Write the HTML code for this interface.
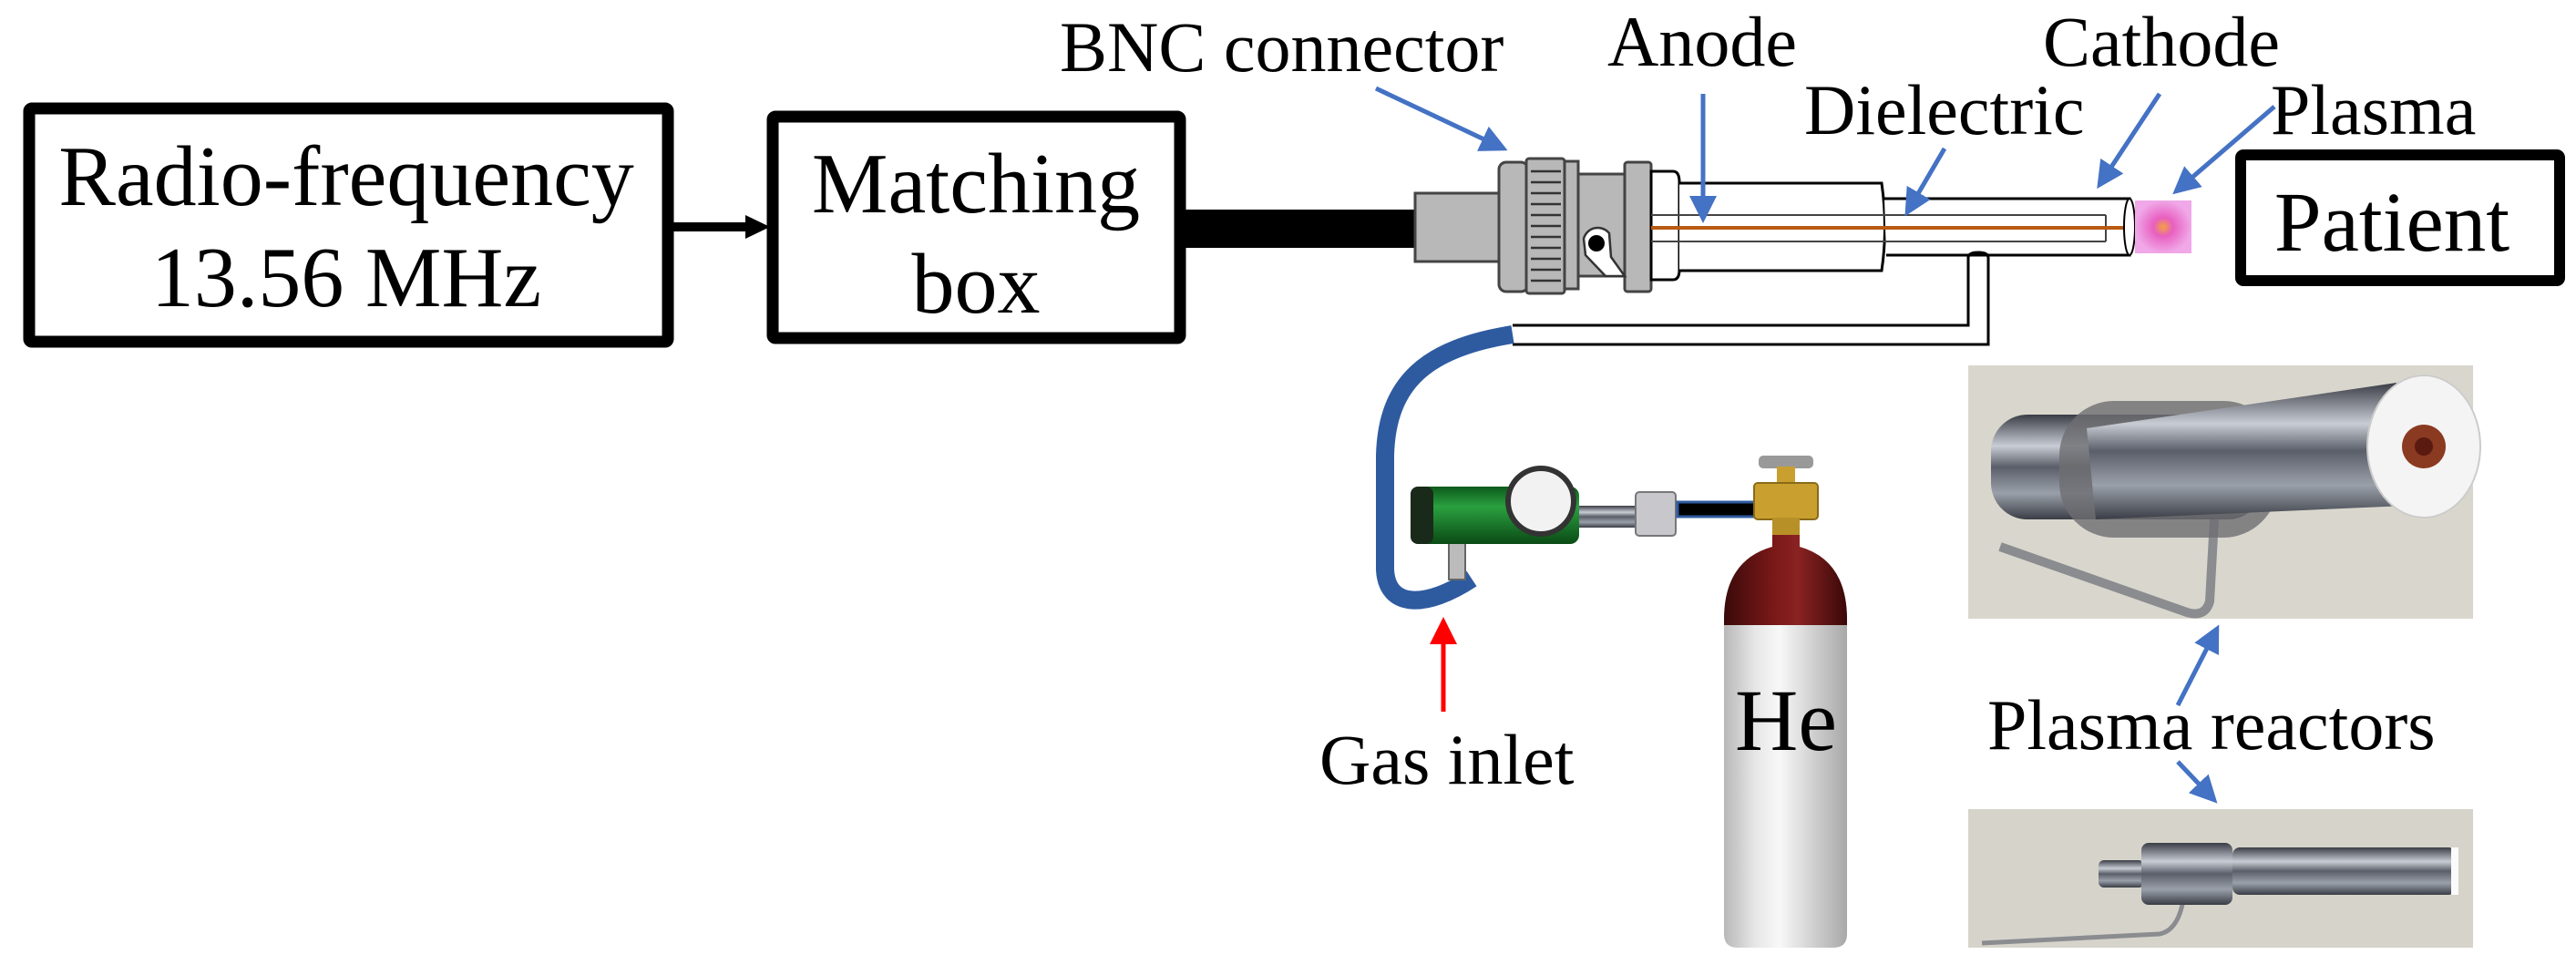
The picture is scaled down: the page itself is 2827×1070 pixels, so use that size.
<!DOCTYPE html>
<html><head><meta charset="utf-8"><style>
html,body{margin:0;padding:0;background:#fff;}
svg{display:block;}
text{font-family:"Liberation Serif",serif;fill:#000;}
</style></head><body>
<svg width="2827" height="1070" viewBox="0 0 2827 1070" xmlns="http://www.w3.org/2000/svg">
<defs>
<marker id="bh" markerWidth="6" markerHeight="6" refX="5" refY="3" orient="auto" markerUnits="strokeWidth"><path d="M0,0 L6,3 L0,6 z" fill="#4472C4"/></marker>
<marker id="rh" markerWidth="6" markerHeight="6" refX="5" refY="3" orient="auto" markerUnits="strokeWidth"><path d="M0,0 L6,3 L0,6 z" fill="#ff0000"/></marker>
<linearGradient id="silver" x1="0" x2="1" y1="0" y2="0">
<stop offset="0" stop-color="#b8b8b8"/><stop offset="0.25" stop-color="#e6e6e6"/><stop offset="0.45" stop-color="#f8f8f8"/><stop offset="0.7" stop-color="#d4d4d4"/><stop offset="1" stop-color="#a8a8a8"/></linearGradient>
<linearGradient id="red" x1="0" x2="1" y1="0" y2="0">
<stop offset="0" stop-color="#3a0a0a"/><stop offset="0.4" stop-color="#7a1818"/><stop offset="0.6" stop-color="#8a2222"/><stop offset="1" stop-color="#3a0808"/></linearGradient>
<linearGradient id="green" x1="0" x2="0" y1="0" y2="1">
<stop offset="0" stop-color="#0c5a1a"/><stop offset="0.35" stop-color="#2aa040"/><stop offset="1" stop-color="#0a4a14"/></linearGradient>
<linearGradient id="metal" x1="0" x2="0" y1="0" y2="1">
<stop offset="0" stop-color="#3a3d45"/><stop offset="0.3" stop-color="#c8ccd4"/><stop offset="0.5" stop-color="#5a5e68"/><stop offset="0.75" stop-color="#9aa0aa"/><stop offset="1" stop-color="#3a3d45"/></linearGradient>
<radialGradient id="pl" cx="0.5" cy="0.5" r="0.5"><stop offset="0" stop-color="#f4a040"/><stop offset="0.35" stop-color="#e860c0"/><stop offset="1" stop-color="#f0a8e8"/></radialGradient>
</defs>

<!-- RF box -->
<rect x="32" y="119" width="701" height="256" fill="#fff" stroke="#000" stroke-width="13" rx="3"/>
<text x="380" y="225" font-size="94" text-anchor="middle">Radio-frequency</text>
<text x="380" y="336" font-size="94" text-anchor="middle">13.56 MHz</text>
<!-- arrow -->
<line x1="739" y1="249" x2="820" y2="249" stroke="#000" stroke-width="10"/>
<path d="M818,236 L845,249 L818,262 z" fill="#000"/>
<!-- Matching box -->
<rect x="848" y="128" width="447" height="243" fill="#fff" stroke="#000" stroke-width="13" rx="3"/>
<text x="1071" y="233" font-size="94" text-anchor="middle">Matching</text>
<text x="1071" y="343" font-size="94" text-anchor="middle">box</text>
<!-- cable -->
<rect x="1301" y="230" width="256" height="42" fill="#000"/>

<!-- BNC -->
<g stroke="#444" stroke-width="3">
<rect x="1553" y="212" width="94" height="75" fill="#b8b8b8"/>
<rect x="1645" y="178" width="32" height="142" rx="8" fill="#b8b8b8"/>
<rect x="1675" y="174" width="42" height="148" rx="3" fill="#b8b8b8"/>
<rect x="1717" y="177" width="15" height="140" fill="#b8b8b8"/>
<rect x="1732" y="191" width="51" height="112" fill="#b8b8b8"/>
<rect x="1783" y="178" width="29" height="142" rx="3" fill="#b8b8b8"/>
</g>
<g stroke="#333" stroke-width="2.5">
<line x1="1680" y1="188" x2="1713" y2="188"/><line x1="1680" y1="200" x2="1713" y2="200"/><line x1="1680" y1="212" x2="1713" y2="212"/><line x1="1680" y1="224" x2="1713" y2="224"/><line x1="1680" y1="236" x2="1713" y2="236"/><line x1="1680" y1="248" x2="1713" y2="248"/><line x1="1680" y1="260" x2="1713" y2="260"/><line x1="1680" y1="272" x2="1713" y2="272"/><line x1="1680" y1="284" x2="1713" y2="284"/><line x1="1680" y1="296" x2="1713" y2="296"/><line x1="1680" y1="308" x2="1713" y2="308"/>
</g>
<path d="M1738,262 A16,16 0 0 1 1766,256 L1768,282 L1783,303 L1762,303 L1740,280 Z" fill="#fff" stroke="#333" stroke-width="2.5"/>
<circle cx="1752" cy="267" r="9" fill="#000"/>
<!-- reactor tubes -->
<path d="M1812,188 L1836,188 Q1843,188 1843,200 L1843,296 Q1843,307 1836,307 L1812,307 Z" fill="#fff" stroke="#000" stroke-width="3"/>
<path d="M1843,201 L2065,201 Q2072,250 2065,297 L1843,297" fill="#fff" stroke="#000" stroke-width="3"/>
<path d="M2068,218 L2337,218 L2337,280 L2070,280" fill="#fff" stroke="#000" stroke-width="3"/>
<ellipse cx="2337" cy="249" rx="6" ry="31" fill="#fff" stroke="#000" stroke-width="2"/>
<line x1="1812" y1="236" x2="2311" y2="236" stroke="#444" stroke-width="2"/>
<line x1="1812" y1="265" x2="2311" y2="265" stroke="#444" stroke-width="2"/>
<line x1="2311" y1="236" x2="2311" y2="265" stroke="#444" stroke-width="2"/>
<line x1="1812" y1="250" x2="2330" y2="250" stroke="#b85a10" stroke-width="4"/>
<rect x="2343" y="220" width="62" height="58" fill="url(#pl)"/>
<!-- gas pipe -->
<path d="M1660,357 L2160,357 L2160,281" fill="none" stroke="#000" stroke-width="3"/>
<path d="M1660,378 L2182,378 L2182,283 Q2182,277 2171,277 Q2160,277 2160,283" fill="none" stroke="#000" stroke-width="3"/>
<!-- Patient -->
<rect x="2459" y="170" width="350" height="138" fill="#fff" stroke="#000" stroke-width="12" rx="3"/>
<text x="2625" y="275" font-size="93" text-anchor="middle">Patient</text>

<!-- labels -->
<text x="1163" y="78" font-size="78">BNC connector</text>
<text x="1764" y="72" font-size="78">Anode</text>
<text x="1980" y="147" font-size="78">Dielectric</text>
<text x="2242" y="72" font-size="78">Cathode</text>
<text x="2492" y="147" font-size="78">Plasma</text>
<g stroke="#4472C4" stroke-width="5" fill="none">
<line x1="1510" y1="97" x2="1650" y2="163" marker-end="url(#bh)"/>
<line x1="1869" y1="103" x2="1869" y2="240" marker-end="url(#bh)"/>
<line x1="2134" y1="163" x2="2093" y2="233" marker-end="url(#bh)"/>
<line x1="2370" y1="103" x2="2304" y2="203" marker-end="url(#bh)"/>
<line x1="2496" y1="117" x2="2388" y2="210" marker-end="url(#bh)"/>
<line x1="2390" y1="774" x2="2433" y2="690" marker-end="url(#bh)"/>
<line x1="2390" y1="836" x2="2430" y2="878" marker-end="url(#bh)"/>
</g>

<!-- blue hose -->
<path d="M1660,367 C1565,382 1522,420 1520,500 L1520,625 C1522,668 1565,668 1615,635" fill="none" stroke="#2E5BA0" stroke-width="20"/>
<!-- regulator -->
<rect x="1590" y="594" width="18" height="42" fill="#bbb" stroke="#666" stroke-width="2"/>
<rect x="1548" y="534" width="185" height="63" rx="10" fill="url(#green)"/>
<rect x="1548" y="534" width="25" height="63" rx="8" fill="#1a2a1a"/>
<circle cx="1691" cy="550" r="36" fill="#f2f2f2" stroke="#333" stroke-width="6"/>
<rect x="1733" y="555" width="65" height="24" fill="url(#metal)"/>
<rect x="1795" y="540" width="44" height="48" rx="4" fill="#c8c8cc" stroke="#777" stroke-width="2"/>
<rect x="1841" y="551" width="88" height="16" fill="#000" stroke="#2E5BA0" stroke-width="3"/>
<rect x="1930" y="500" width="60" height="14" rx="5" fill="#999"/>
<rect x="1950" y="512" width="20" height="20" fill="#c9a030"/>
<rect x="1925" y="530" width="70" height="40" rx="4" fill="#c9a030" stroke="#8a6a18" stroke-width="2"/>
<rect x="1945" y="568" width="30" height="20" fill="#b89028"/>
<!-- cylinder -->
<path d="M1945,587 L1975,587 L1975,600 Q2027,615 2027,680 L2027,1025 Q2027,1040 2012,1040 L1907,1040 Q1892,1040 1892,1025 L1892,680 Q1892,615 1945,600 Z" fill="url(#silver)"/>
<path d="M1945,587 L1975,587 L1975,600 Q2027,615 2027,680 L2027,686 L1892,686 L1892,680 Q1892,615 1945,600 Z" fill="url(#red)"/>
<text x="1960" y="823" font-size="96" text-anchor="middle">He</text>
<!-- gas inlet -->
<line x1="1584" y1="781" x2="1584" y2="682" stroke="#ff0000" stroke-width="5" marker-end="url(#rh)"/>
<text x="1448" y="860" font-size="78">Gas inlet</text>

<!-- photos -->
<rect x="2160" y="401" width="554" height="278" fill="#d9d7cd"/>
<path d="M2195,600 L2400,672 Q2420,678 2425,660 L2430,570" fill="none" stroke="#8a8c90" stroke-width="10"/>
<rect x="2185" y="455" width="300" height="115" rx="40" fill="url(#metal)"/>
<rect x="2260" y="440" width="240" height="150" rx="60" fill="#6e6e72" opacity="0.8"/>
<path d="M2290,470 L2630,420 L2640,555 L2300,570 Z" fill="url(#metal)"/>
<ellipse cx="2660" cy="490" rx="62" ry="78" fill="#f4f4f4" stroke="#ccc" stroke-width="2"/>
<circle cx="2660" cy="490" r="24" fill="#8a3a20"/>
<circle cx="2660" cy="490" r="10" fill="#5a1a10"/>
<text x="2181" y="822" font-size="78">Plasma reactors</text>
<rect x="2160" y="888" width="554" height="152" fill="#d6d4ca"/>
<path d="M2175,1035 L2370,1025 Q2395,1020 2398,970" fill="none" stroke="#8a8c90" stroke-width="5"/>
<rect x="2303" y="944" width="50" height="30" rx="6" fill="url(#metal)"/>
<rect x="2350" y="925" width="100" height="68" rx="8" fill="url(#metal)"/>
<rect x="2450" y="930" width="245" height="52" rx="8" fill="url(#metal)"/>
<rect x="2690" y="930" width="8" height="52" fill="#fafafa"/>
</svg>
</body></html>
